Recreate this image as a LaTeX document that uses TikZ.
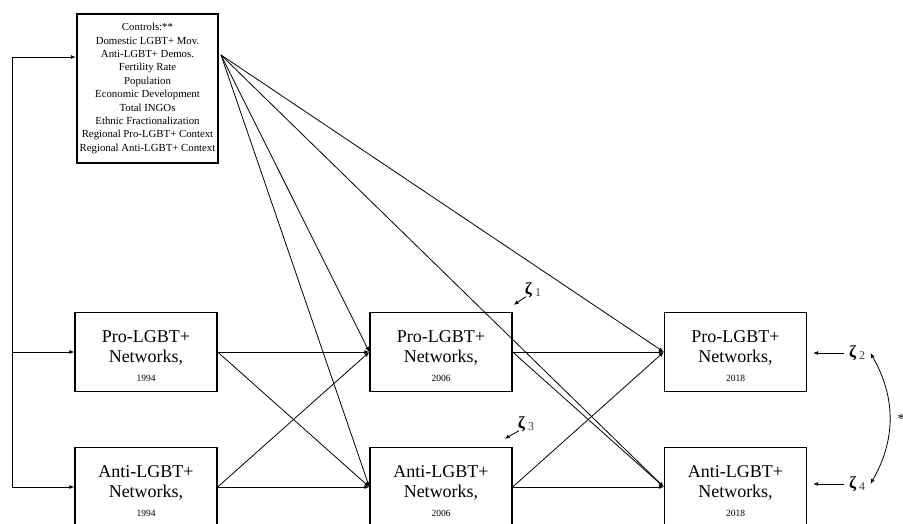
\documentclass[tikz,border=0pt]{standalone}
\usepackage{fontspec}
\setmainfont{Liberation Serif}
\usetikzlibrary{arrows.meta}
\tikzset{%
    Dbox/.style={draw, line width=1.3pt, minimum width=142pt, minimum height=79pt, inner sep=0pt, align=center, font=\fontsize{18}{20.5}\selectfont},
    Dctrl/.style={draw, line width=2.4pt, minimum width=141pt, minimum height=149pt, inner sep=0pt, align=center, font=\fontsize{10.8}{13.4}\selectfont},
    Dline/.style={line width=0.8pt},
    Darrow/.style={Dline, -{Latex[length=5pt,width=4pt]}},
    Dzeta/.style={inner sep=0pt, font=\fontsize{17}{17}\selectfont}
}
\newcommand{\Dyear}{\fontsize{9.5}{9.5}\selectfont}
\newcommand{\Dzetalabel}[1]{\textbf{ζ}\,\raisebox{-2pt}{\fontsize{12}{12}\selectfont\color{black!75}#1}}

\begin{document}
\begin{tikzpicture}[x=1pt,y=-1pt]
        \useasboundingbox (0,0) rectangle (903,524);
        \path
            (12,57) coordinate (Nlt)
            (12,487) coordinate (Nlb)
            (221,55) coordinate (Nout);
        \node[Dctrl] (Nctrl) at (147.5,88.5) {Controls:**\\Domestic LGBT+ Mov.\\Anti-LGBT+ Demos.\\Fertility Rate\\Population\\Economic Development\\Total INGOs\\Ethnic Fractionalization\\Regional Pro-LGBT+ Context\\Regional Anti-LGBT+ Context};
        \foreach \yr/\x in {1994/146,2006/441,2018/735.5} {
            \node[Dbox] (Npro\yr) at (\x,352) {\rule{0pt}{20pt}Pro-LGBT+\\Networks,\\[-2pt]{\Dyear \yr}};
            \node[Dbox] (Nanti\yr) at (\x,487) {\rule{0pt}{20pt}Anti-LGBT+\\Networks,\\[-2pt]{\Dyear \yr}};
        }
        % left feed
        \draw[Dline] (Nlt) -- (Nlb);
        \draw[Darrow] (Nlt) -- (Nctrl.west |- Nlt);
        \draw[Darrow] (Nlb |- Npro1994) -- (Npro1994.west);
        \draw[Darrow] (Nlb) -- (Nanti1994.west);
        % paths between waves
        \foreach \a/\b in {pro1994/pro2006,pro1994/anti2006,anti1994/pro2006,anti1994/anti2006,
                           pro2006/pro2018,pro2006/anti2018,anti2006/pro2018,anti2006/anti2018}
            \draw[Darrow] (N\a.east) -- (N\b.west);
        \foreach \b in {pro2006,anti2006,pro2018,anti2018}
            \draw[Darrow] (Nout) -- (N\b.west);
        % disturbances
        \node[Dzeta] (Nz1) at (533,290) {\Dzetalabel{1}};
        \node[Dzeta] (Nz3) at (526,424) {\Dzetalabel{3}};
        \node[Dzeta, anchor=west] (Nz2) at (849,353) {\Dzetalabel{2}};
        \node[Dzeta, anchor=west] (Nz4) at (849,484) {\Dzetalabel{4}};
        \draw[Darrow] ([shift={(1,-1)}]Nz1.south west) -- ([shift={(1,-7)}]Npro2006.north east);
        \draw[Darrow] ([shift={(1,-1)}]Nz3.south west) -- ([shift={(-8,-8)}]Nanti2006.north east);
        \draw[Darrow, shorten <=5pt, shorten >=6pt] (Nz2.west) -- (Nz2.west -| Npro2018.east);
        \draw[Darrow, shorten <=5pt, shorten >=6pt] (Nz4.west) -- (Nz4.west -| Nanti2018.east);
        \draw[Dline, {Latex[length=5pt,width=4pt]}-{Latex[length=5pt,width=4pt]}] ([xshift=5pt]Nz2.east) to[bend left=30] ([xshift=5pt]Nz4.east);
        \node[font=\fontsize{14}{14}\selectfont] (Nstar) at (901,419) {*};
    \end{tikzpicture}
\end{document}
